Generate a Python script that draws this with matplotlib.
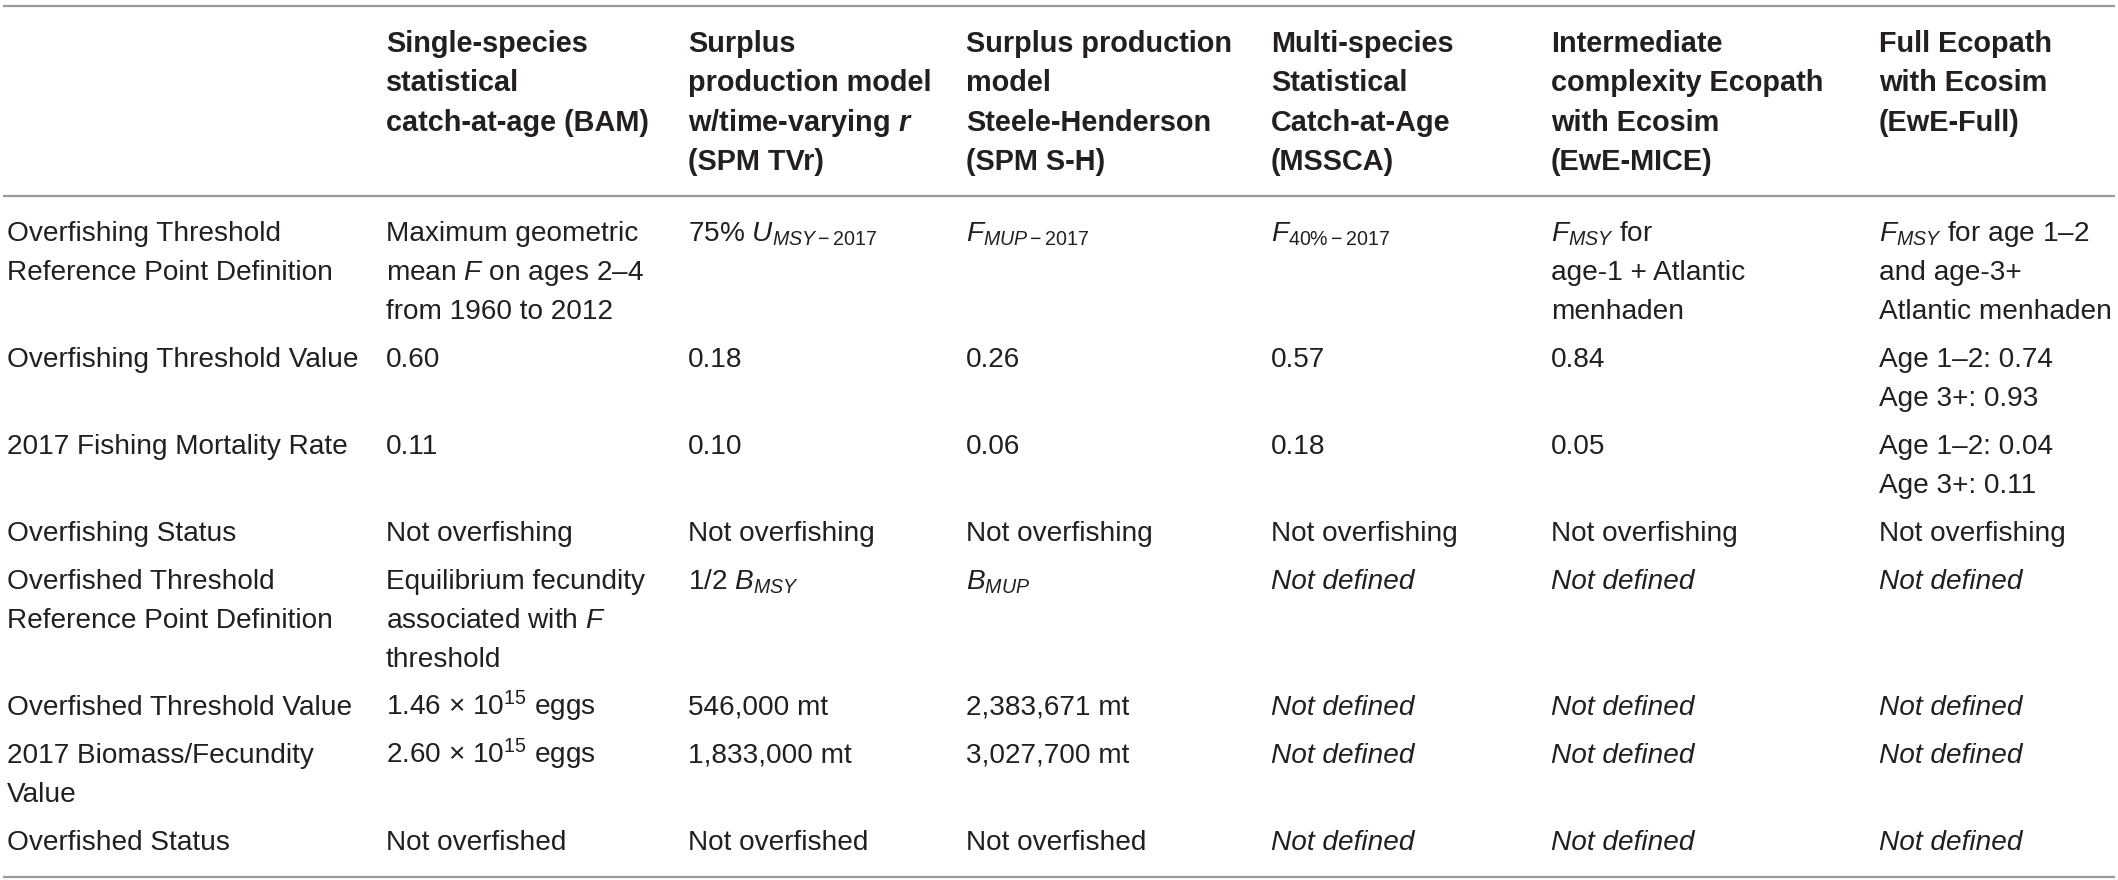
import matplotlib.pyplot as plt

# table content
row_labels = [
    "Overfishing Threshold\nReference Point Definition",
    "Overfishing Threshold Value",
    "2017 Fishing Mortality Rate",
    "Overfishing Status",
    "Overfished Threshold\nReference Point Definition",
    "Overfished Threshold Value",
    "2017 Biomass/Fecundity\nValue",
    "Overfished Status",
]

model_names = [
    "Single-species\nstatistical\ncatch-at-age (BAM)",
    "Surplus\nproduction model\nw/time-varying $\\mathbfit{r}$\n(SPM TVr)",
    "Surplus production\nmodel\nSteele-Henderson\n(SPM S-H)",
    "Multi-species\nStatistical\nCatch-at-Age\n(MSSCA)",
    "Intermediate\ncomplexity Ecopath\nwith Ecosim\n(EwE-MICE)",
    "Full Ecopath\nwith Ecosim\n(EwE-Full)",
]

nd = "Not defined"
bam = ["Maximum geometric\nmean $F$ on ages 2–4\nfrom 1960 to 2012", "0.60", "0.11",
       "Not overfishing", "Equilibrium fecundity\nassociated with $F$\nthreshold",
       "1.46 × 10$^{15}$ eggs", "2.60 × 10$^{15}$ eggs", "Not overfished"]
spm_tvr = ["75% $U_{MSY-2017}$", "0.18", "0.10", "Not overfishing", "1/2 $B_{MSY}$",
           "546,000 mt", "1,833,000 mt", "Not overfished"]
spm_sh = ["$F_{MUP-2017}$", "0.26", "0.06", "Not overfishing", "$B_{MUP}$",
          "2,383,671 mt", "3,027,700 mt", "Not overfished"]
mssca = ["$F_{40\\%-2017}$", "0.57", "0.18", "Not overfishing", nd, nd, nd, nd]
ewe_mice = ["$F_{MSY}$ for\nage-1 + Atlantic\nmenhaden", "0.84", "0.05",
            "Not overfishing", nd, nd, nd, nd]
ewe_full = ["$F_{MSY}$ for age 1–2\nand age-3+\nAtlantic menhaden",
            "Age 1–2: 0.74\nAge 3+: 0.93", "Age 1–2: 0.04\nAge 3+: 0.11",
            "Not overfishing", nd, nd, nd, nd]

columns = [row_labels, bam, spm_tvr, spm_sh, mssca, ewe_mice, ewe_full]

plt.rcParams.update({
    "font.family": ["Liberation Sans", "DejaVu Sans"],
    "mathtext.fontset": "custom",
    "mathtext.rm": "Liberation Sans",
    "mathtext.it": "Liberation Sans:italic",
    "mathtext.bf": "Liberation Sans:bold",
    "mathtext.bfit": "Liberation Sans:italic:bold",
})

W, H = 2118, 880
col_x = [7, 386, 688, 966, 1271, 1551, 1879]
text_color = "#231f20"
rule_color = "#9a9a9a"
line_h = 39
pad = 9

fig = plt.figure(figsize=(W / 100, H / 100), dpi=100)
ax = fig.add_axes([0, 0, 1, 1])
ax.set_xlim(0, W)
ax.set_ylim(H, 0)
ax.axis("off")

# rules
for y in (6, 196, 877):
    ax.hlines(y, 3, W - 3, color=rule_color, lw=1.6)

# header
for x, name in zip(col_x[1:], model_names):
    for i, line in enumerate(name.split("\n")):
        ax.text(x, 42 + i * 39.4 + 10, line, fontsize=20.8, fontweight="bold",
                color=text_color, va="baseline", ha="left")

# body
y0 = 231
for r in range(len(row_labels)):
    nlines = max(col[r].count("\n") + 1 for col in columns)
    for x, col in zip(col_x, columns):
        cell = col[r]
        style = "italic" if cell == nd else "normal"
        for i, line in enumerate(cell.split("\n")):
            ax.text(x, y0 + i * line_h + 10, line, fontsize=20.2, style=style,
                    color=text_color, va="baseline", ha="left")
    y0 += nlines * line_h + pad

fig.savefig("out.png", dpi=100)
